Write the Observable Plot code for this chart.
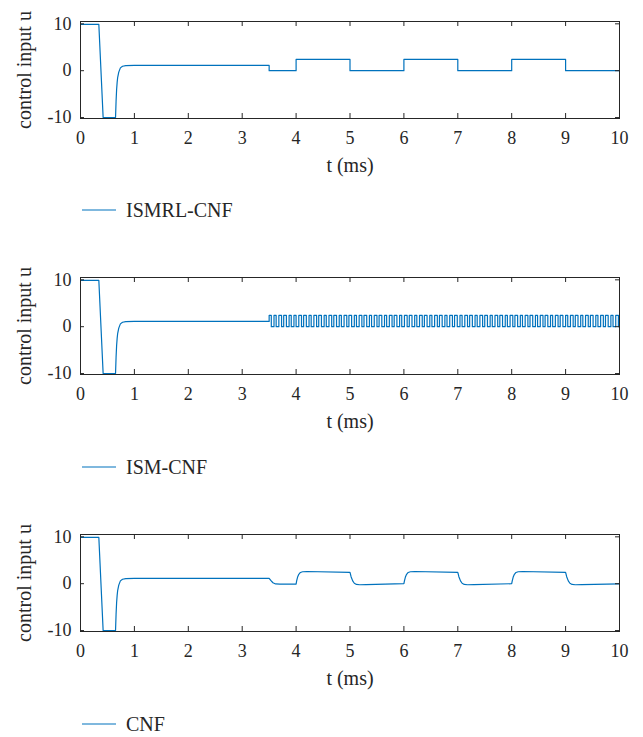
<!DOCTYPE html>
<html>
<head>
<meta charset="utf-8">
<script src="https://cdn.jsdelivr.net/npm/d3@7"></script>
<script src="https://cdn.jsdelivr.net/npm/@observablehq/plot@0.6"></script>
<style>
  html, body { margin: 0; padding: 0; background: #fff; }
  #root { position: relative; width: 643px; height: 737px; font-family: "Liberation Serif", serif; color: #262626; }
  .panel { position: absolute; left: 0; }
  .panel svg { overflow: visible; }
  .legend { position: absolute; left: 81px; display: flex; align-items: center; font-size: 20px; color: #262626; }
  .legend svg { display: block; margin-right: 9px; }
</style>
</head>
<body>
<div id="root"></div>
<script>
// ---------- data ----------
const xTicks = [0, 1, 2, 3, 4, 5, 6, 7, 8, 9, 10];
const yTicks = [-10, 0, 10];
const yDomain = [-10.2, 10.5];
const seriesNames = ["ISMRL-CNF", "ISM-CNF", "CNF"];

// common transient, t in ms (0 .. 3.5)
const startT = [0, 0.34, 0.42, 0.65, 0.66, 0.67, 0.68, 0.69, 0.71, 0.74, 0.78, 0.84, 1.0, 3.5];
const startU = [9.9, 9.9, -10, -10, -6.5, -4, -2.5, -1.4, -0.3, 0.6, 0.95, 1.07, 1.12, 1.12];

// ISMRL-CNF after 3.5 ms
const ismrlT = [3.5, 3.5, 4, 4, 5, 5, 6, 6, 7, 7, 8, 8, 9, 9, 10];
const ismrlU = [1.12, 0, 0, 2.4, 2.4, 0, 0, 2.4, 2.4, 0, 0, 2.4, 2.4, 0, 0];

// ISM-CNF after 3.5 ms: chattering between these two levels, switching at these times
const ismLevels = [2.4, 0];
const ismSwitchT = [
  3.50, 3.54, 3.59, 3.63, 3.68, 3.73, 3.77, 3.82, 3.87, 3.91, 3.96, 4.00,
  4.05, 4.10, 4.14, 4.19, 4.24, 4.28, 4.33, 4.38, 4.42, 4.47, 4.52, 4.56, 4.61, 4.66, 4.70, 4.75, 4.80, 4.84, 4.89, 4.94, 4.98,
  5.03, 5.08, 5.12, 5.17, 5.22, 5.26, 5.31, 5.36, 5.40, 5.45, 5.50, 5.54, 5.59, 5.64, 5.68, 5.73, 5.78, 5.82, 5.87, 5.92, 5.96,
  6.01, 6.06, 6.10, 6.15, 6.20, 6.24, 6.29, 6.34, 6.38, 6.43, 6.48, 6.52, 6.57, 6.62, 6.66, 6.71, 6.76, 6.80, 6.85, 6.90, 6.94, 6.99,
  7.04, 7.08, 7.13, 7.18, 7.22, 7.27, 7.32, 7.36, 7.41, 7.46, 7.50, 7.55, 7.60, 7.64, 7.69, 7.74, 7.78, 7.83, 7.88, 7.92, 7.97,
  8.02, 8.06, 8.11, 8.16, 8.20, 8.25, 8.30, 8.34, 8.39, 8.44, 8.48, 8.53, 8.58, 8.62, 8.67, 8.72, 8.76, 8.81, 8.86, 8.90, 8.95,
  9.00, 9.04, 9.09, 9.14, 9.18, 9.23, 9.28, 9.32, 9.37, 9.42, 9.46, 9.51, 9.56, 9.60, 9.65, 9.70, 9.74, 9.79, 9.84, 9.88, 9.93, 9.98
];

// CNF after 3.5 ms
const cnfT = [3.5, 3.53, 3.57, 3.62, 3.7, 4.0,
  4.01, 4.03, 4.05, 4.08, 4.12, 4.2, 5.0,
  5.02, 5.05, 5.08, 5.12, 5.18, 5.3, 6.0,
  6.01, 6.03, 6.05, 6.08, 6.12, 6.2, 7.0,
  7.02, 7.05, 7.08, 7.12, 7.18, 7.3, 8.0,
  8.01, 8.03, 8.05, 8.08, 8.12, 8.2, 9.0,
  9.02, 9.05, 9.08, 9.12, 9.18, 9.3, 10];
const cnfU = [1.12, 0.7, 0.2, -0.05, -0.1, -0.08,
  0.6, 1.5, 2.0, 2.4, 2.55, 2.6, 2.4,
  1.5, 0.6, 0.1, -0.15, -0.22, -0.2, 0,
  0.6, 1.5, 2.0, 2.4, 2.55, 2.6, 2.4,
  1.5, 0.6, 0.1, -0.15, -0.22, -0.2, 0,
  0.6, 1.5, 2.0, 2.4, 2.55, 2.6, 2.4,
  1.5, 0.6, 0.1, -0.15, -0.22, -0.2, -0.05];

// ---------- build tables ----------
const zip = (ts, us) => ts.map((t, i) => ({t, u: us[i]}));
const start = zip(startT, startU);
const ismrl = start.concat(zip(ismrlT, ismrlU));
const cnf = start.concat(zip(cnfT, cnfU));
const ism = start.slice();
{
  let prev = startU[startU.length - 1];
  ismSwitchT.forEach((t, i) => {
    const v = ismLevels[i % 2];
    ism.push({t, u: prev}, {t, u: v});
    prev = v;
  });
  ism.push({t: 10, u: prev});
}
const seriesData = [ismrl, ism, cnf];

// ---------- draw ----------
const W = 643, H = 190, mL = 80, mR = 24, mT = 21, mB = 72;
const frameW = W - mL - mR, frameH = H - mT - mB;
const ink = "#262626", blue = "#0072BD";
const panelTops = [0, 256, 513];
const legendTops = [210, 467, 724];
const root = document.getElementById("root");

seriesData.forEach((data, k) => {
  const chart = Plot.plot({
    width: W, height: H,
    marginLeft: mL, marginRight: mR, marginTop: mT, marginBottom: mB,
    style: {fontFamily: "'Liberation Serif', serif", fontSize: "18px", color: ink, background: "transparent", overflow: "visible"},
    x: {domain: [0, 10]},
    y: {domain: yDomain},
    marks: [
      Plot.line(data, {x: "t", y: "u", stroke: blue, strokeWidth: 1.2}),
      Plot.frame({stroke: ink, strokeWidth: 1}),
      Plot.ruleX(xTicks, {x: d => d, insetTop: frameH - 5, stroke: ink}),
      Plot.ruleX(xTicks, {x: d => d, insetBottom: frameH - 5, stroke: ink}),
      Plot.ruleY(yTicks, {y: d => d, insetRight: frameW - 4, stroke: ink}),
      Plot.ruleY(yTicks, {y: d => d, insetLeft: frameW - 4, stroke: ink}),
      Plot.axisX({ticks: xTicks, tickSize: 0, tickPadding: 13, label: null, tickFormat: d => String(d)}),
      Plot.axisY({ticks: yTicks, tickSize: 0, tickPadding: 9, label: null, tickFormat: d => String(d)}),
      Plot.text(["t (ms)"], {text: d => d, frameAnchor: "bottom", dy: 53, fontSize: 20, fill: ink}),
      Plot.text(["control input u"], {text: d => d, frameAnchor: "left", textAnchor: "middle", dx: -56, rotate: -90, fontSize: 20, fill: ink})
    ]
  });
  const wrap = document.createElement("div");
  wrap.className = "panel";
  wrap.style.top = panelTops[k] + "px";
  wrap.appendChild(chart);
  root.appendChild(wrap);

  const leg = document.createElement("div");
  leg.className = "legend";
  leg.style.top = (legendTops[k] - 12) + "px";
  leg.style.height = "24px";
  leg.innerHTML = `<svg width="36" height="24"><line x1="1" x2="35" y1="12" y2="12" stroke="${blue}" stroke-width="1.2"/></svg><span>${seriesNames[k]}</span>`;
  root.appendChild(leg);
});
</script>
</body>
</html>
